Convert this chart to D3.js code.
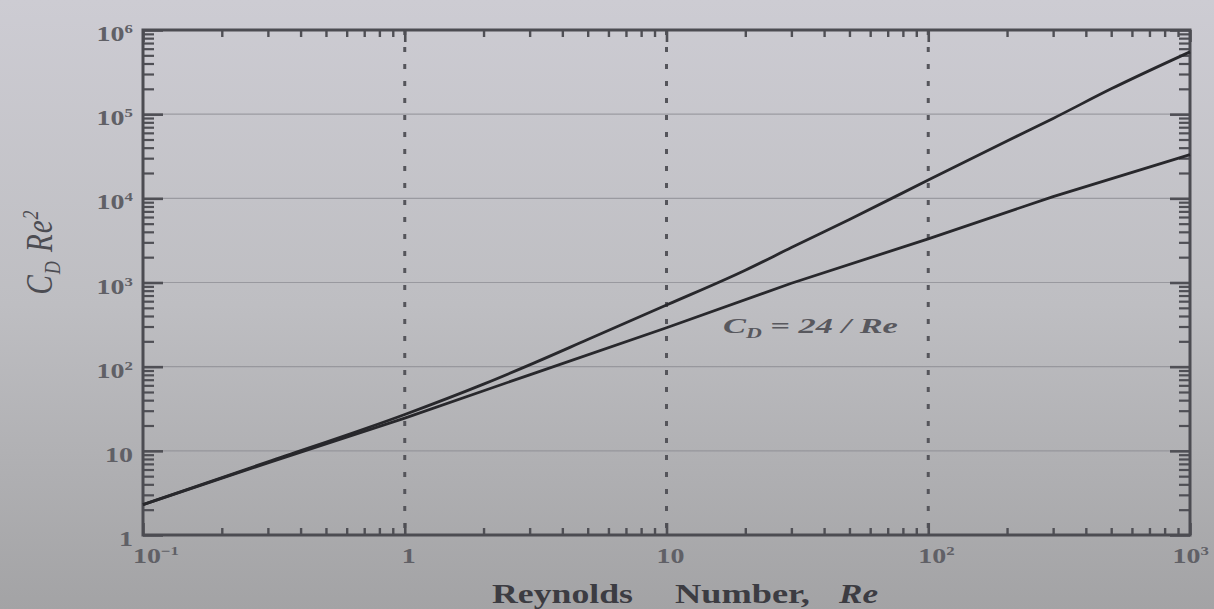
<!DOCTYPE html>
<html>
<head>
<meta charset="utf-8">
<script src="https://cdn.jsdelivr.net/npm/d3@7"></script>
<style>
  body { margin: 0; overflow: hidden; }
  svg { display: block; }
</style>
</head>
<body>
<div id="chart"></div>
<script>
// standard drag curve, C_D Re^2
const reCurve = [0.1, 0.3, 1, 2, 3, 5, 10, 20, 30, 50, 100, 200, 300, 500, 1000]
const cdRe2Curve = [2.3, 7.4, 27, 62, 105, 210, 540, 1400, 2600, 5600, 16500, 48000, 89000, 200000, 550000]
// Stokes law C_D = 24/Re, drawn as C_D Re^2
const reStokes = [0.1, 0.3, 1, 3, 10, 30, 100, 300, 1000]
const cdRe2Stokes = [2.3, 7.2, 24.5, 80, 290, 980, 3300, 10500, 33000]

const xTicks = [0.1, 1, 10, 100, 1000]
const xTickBase = ["10", "1", "10", "10", "10"]
const xTickExp = ["\u22121", "", "", "2", "3"]
const yTicks = [1, 10, 100, 1000, 10000, 100000, 1000000]
const yTickBase = ["1", "10", "10", "10", "10", "10", "10"]
const yTickExp = ["", "", "2", "3", "4", "5", "6"]

const W = 1214, H = 609
const m = {left: 143, right: 24, top: 30, bottom: 74}
const pw = W - m.left - m.right, ph = H - m.top - m.bottom
const serif = "'Liberation Serif', 'DejaVu Serif', serif"
const stretch = 1.4 // the photographed page is pulled out sideways

const svg = d3.select("#chart").append("svg").attr("width", W).attr("height", H)

const grad = svg.append("defs").append("linearGradient").attr("id", "bg")
	.attr("x1", 0).attr("y1", 0).attr("x2", 0).attr("y2", 1)
grad.append("stop").attr("offset", "0%").attr("stop-color", "#cdccd3")
grad.append("stop").attr("offset", "50%").attr("stop-color", "#bebec2")
grad.append("stop").attr("offset", "100%").attr("stop-color", "#a3a3a5")
svg.append("rect").attr("width", W).attr("height", H).attr("fill", "url(#bg)")

const xs = d3.scaleLog().domain([0.1, 1000]).range([0, pw])
const ys = d3.scaleLog().domain([1, 1000000]).range([ph, 0])

const g = svg.append("g").attr("transform", `translate(${m.left},${m.top})`)

// minor tick values, 2..9 in each decade
const minorOf = (lo, hi) => {
	const out = []
	for (let p = lo; p < hi * 0.999; p *= 10) for (let k = 2; k <= 9; k++) out.push(p * k)
	return out
}
const xMinor = minorOf(0.1, 1000)
const yMinor = minorOf(1, 1000000)

// horizontal grid: faint solid lines at the decades
g.append("g").selectAll("line").data(yTicks.slice(1, -1)).join("line")
	.attr("x1", 0).attr("x2", pw)
	.attr("y1", d => ys(d)).attr("y2", d => ys(d))
	.attr("stroke", "#8d8d93").attr("stroke-width", 1.2).attr("opacity", 0.75)

// vertical grid: dotted lines at 1, 10, 100
g.append("g").selectAll("line").data(xTicks.slice(1, -1)).join("line")
	.attr("x1", d => xs(d)).attr("x2", d => xs(d))
	.attr("y1", 0).attr("y2", ph)
	.attr("stroke", "#55555b").attr("stroke-width", 3).attr("stroke-dasharray", "5,12")

// inward ticks on all four sides: [axis, transform, values, length, width]
const tickSets = [
	[d3.axisBottom(xs), `translate(0,${ph})`, xTicks, 12, 2.6],
	[d3.axisTop(xs), "translate(0,0)", xTicks, 12, 2.6],
	[d3.axisLeft(ys), "translate(0,0)", yTicks, 20, 2.6],
	[d3.axisRight(ys), `translate(${pw},0)`, yTicks, 20, 2.6],
	[d3.axisBottom(xs), `translate(0,${ph})`, xMinor, 7, 2.4],
	[d3.axisTop(xs), "translate(0,0)", xMinor, 7, 2.4],
	[d3.axisLeft(ys), "translate(0,0)", yMinor, 11, 2.2],
	[d3.axisRight(ys), `translate(${pw},0)`, yMinor, 11, 2.2]
]
tickSets.forEach(([ax, tr, vals, len, sw]) => {
	g.append("g").attr("transform", tr)
		.call(ax.tickValues(vals).tickSize(-len).tickFormat(""))
		.call(s => s.select(".domain").remove())
		.selectAll("line").attr("stroke", "#4f4f55").attr("stroke-width", sw)
})

// frame
g.append("rect").attr("width", pw).attr("height", ph)
	.attr("fill", "none").attr("stroke", "#4c4c52").attr("stroke-width", 3)

// curves
g.append("path")
	.datum(reCurve.map((r, i) => [r, cdRe2Curve[i]]))
	.attr("fill", "none").attr("stroke", "#28282c").attr("stroke-width", 2.8)
	.attr("d", d3.line().x(d => xs(d[0])).y(d => ys(d[1])).curve(d3.curveMonotoneX))
g.append("path")
	.datum(reStokes.map((r, i) => [r, cdRe2Stokes[i]]))
	.attr("fill", "none").attr("stroke", "#28282c").attr("stroke-width", 2.8)
	.attr("d", d3.line().x(d => xs(d[0])).y(d => ys(d[1])))

// squeeze or stretch a text to a measured width
const fitWidth = (t, x, y, width) => {
	const w = t.node().getComputedTextLength()
	t.attr("transform", `translate(${x},${y}) scale(${width / w},1)`)
}

// tick labels, base number plus a raised exponent
const tickLabel = (x, y, base, exp, anchor) => {
	const t = svg.append("text").attr("font-family", serif).attr("font-size", 20)
		.attr("font-weight", "bold").attr("fill", "#606066")
	const b = t.append("tspan").text(base)
	if (exp) t.append("tspan").attr("dy", -8).attr("font-size", 12).text(exp)
	const bw = b.node().getComputedTextLength()
	const tw = t.node().getComputedTextLength()
	let x0 = anchor === "end" ? -tw : -bw / 2
	// keep the last label inside the window
	const over = x + (x0 + tw) * stretch - (W - 5)
	if (over > 0) x0 -= over / stretch
	t.attr("x", x0).attr("transform", `translate(${x},${y}) scale(${stretch},1)`)
}
xTicks.forEach((v, i) => tickLabel(m.left + xs(v) + 4, 563, xTickBase[i], xTickExp[i], "middle"))
yTicks.forEach((v, i) => tickLabel(133, m.top + ys(v) + 11, yTickBase[i], yTickExp[i], "end"))

// annotation for the Stokes line
const note = svg.append("text").attr("font-family", serif).attr("font-style", "italic")
	.attr("font-size", 22).attr("font-weight", "bold").attr("fill", "#58585e")
note.append("tspan").text("C")
note.append("tspan").attr("dy", 5).attr("font-size", 14).text("D")
note.append("tspan").attr("dy", -5).text(" = 24 / Re")
fitWidth(note, 723, 333, 175)

// x axis title, word by word
const xTitle = [["Reynolds", 492, 141, "normal"], ["Number,", 675, 135, "normal"], ["Re", 839, 39, "italic"]]
xTitle.forEach(([word, x, w, style]) => {
	const t = svg.append("text").attr("font-family", serif).attr("font-size", 28)
		.attr("font-weight", "bold").attr("font-style", style).attr("fill", "#3c3c42").text(word)
	fitWidth(t, x, 603, w)
})

// y axis title
const yt = svg.append("text").attr("transform", "translate(52,252) rotate(-90) scale(1,1.3)")
	.attr("text-anchor", "middle").attr("font-family", serif).attr("font-style", "italic")
	.attr("font-size", 29).attr("fill", "#4c4c52").attr("letter-spacing", 1)
yt.append("tspan").text("C")
yt.append("tspan").attr("dy", 6).attr("font-size", 18).text("D")
yt.append("tspan").attr("dy", -6).text(" Re")
yt.append("tspan").attr("dy", -11).attr("font-size", 18).text("2")
</script>
</body>
</html>
